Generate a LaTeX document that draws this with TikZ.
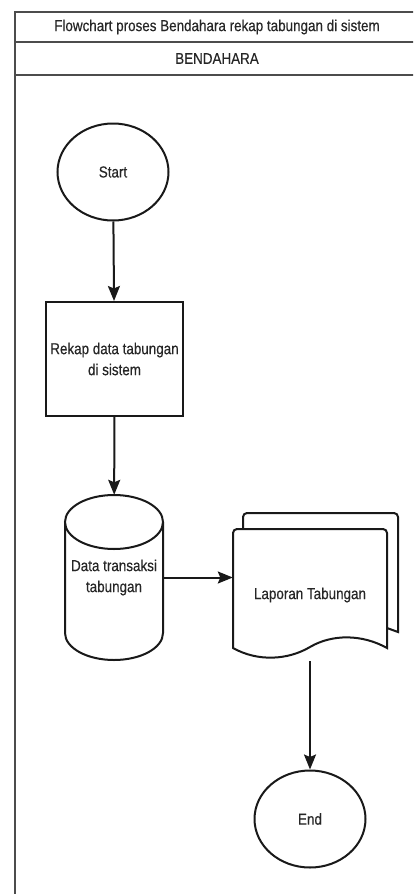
\documentclass[tikz,border=0pt]{standalone}
\usepackage{fontspec}
\setmainfont{Liberation Sans}[FakeStretch=0.85, FakeBold=0.4]
\usetikzlibrary{arrows.meta,shapes.geometric}

\begin{document}
\begin{tikzpicture}[x=1pt, y=-1pt,
  txt/.style={text=black!85, font=\fontsize{15.8pt}{21pt}\selectfont, align=center},
  termnode/.style={txt, draw=black!90, line width=2pt, ellipse, minimum width=111pt, minimum height=97pt},
  procbox/.style={txt, draw=black!90, line width=2pt, rectangle, minimum width=137pt, minimum height=114pt},
  dbnode/.style={txt, minimum width=98pt, minimum height=165pt},
  docnode/.style={txt, minimum width=154pt, minimum height=132pt},
  outline/.style={draw=black!90, line width=2pt, fill=white},
  flow/.style={draw=black!90, line width=2pt, -{Stealth[length=15pt, width=12pt, inset=2.5pt]}}]
\useasboundingbox (0,0) rectangle (413,894);
\clip (0,0) rectangle (413,894);
\draw[black!70, line width=2pt] (15,12) rectangle (420,900);
\draw[black!70, line width=2pt] (15,42) -- (420,42);
\draw[black!70, line width=2pt] (15,75) -- (420,75);
\node[txt] (judul) at (217,27) {Flowchart proses Bendahara rekap tabungan di sistem};
\node[txt] (bendahara) at (217,58.5) {BENDAHARA};
\node[termnode] (start) at (113,172) {Start};
\node[procbox] (rekap) at (114.5,359) {Rekap data tabungan\\di sistem};
\draw[outline] (65,522) -- (65,633) arc[start angle=180, end angle=0, x radius=49, y radius=27] -- (163,522);
\draw[outline] (114,522) ellipse (49 and 27);
\node[dbnode] (data) at (114,577.5) {Data transaksi\\tabungan};
\draw[outline] (243,529) [rounded corners=4pt] -- (243,513) -- (398,513) [sharp corners] -- (398,632) -- (387,628);
\draw[outline] (233,648) [rounded corners=4pt] -- (233,529) -- (387,529) [sharp corners] -- (387,648)
  .. controls (362,634) and (332,634) .. (310,647) .. controls (288,660) and (258,662) .. (233,648) -- cycle;
\node[docnode] (laporan) at (310,595) {Laporan Tabungan};
\node[termnode] (end) at (310,819) {End};
\draw[flow] (start) -- (rekap);
\draw[flow] (rekap) -- (data);
\draw[flow] (data.east) -- (data.east -| laporan.west);
\draw[flow] (laporan.south) -- (end);
\end{tikzpicture}
\end{document}
